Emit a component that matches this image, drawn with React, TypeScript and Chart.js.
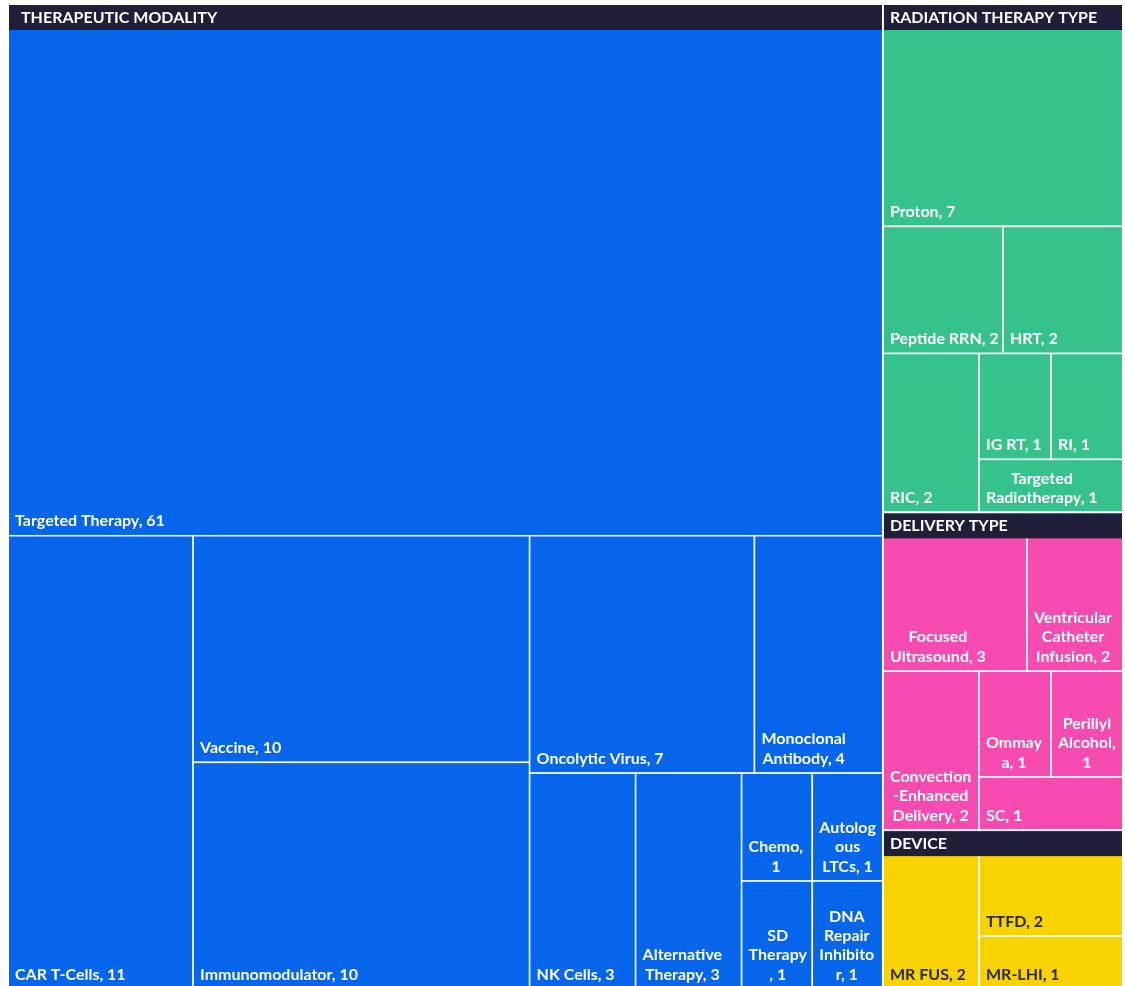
import React, { useEffect, useRef } from 'react';
import { Chart, registerables } from 'chart.js';

Chart.register(...registerables);

// ---------- data ----------
const groupNames = ['THERAPEUTIC MODALITY', 'RADIATION THERAPY TYPE', 'DELIVERY TYPE', 'DEVICE'];
const groupColors = ['#0566EC', '#36C38B', '#F74BB2', '#F8D300'];
const groupTextColors = ['#FFFFFF', '#FFFFFF', '#FFFFFF', '#2B2A28'];

const modalityLabels = [
  'Targeted Therapy', 'CAR T-Cells', 'Vaccine', 'Immunomodulator', 'Oncolytic Virus',
  'Monoclonal Antibody', 'NK Cells', 'Alternative Therapy', 'Chemo', 'Autologous LTCs',
  'SD Therapy', 'DNA Repair Inhibitor',
];
const modalityValues = [61, 11, 10, 10, 7, 4, 3, 3, 1, 1, 1, 1];

const radiationLabels = ['Proton', 'Peptide RRN', 'HRT', 'RIC', 'IG RT', 'RI', 'Targeted Radiotherapy'];
const radiationValues = [7, 2, 2, 2, 1, 1, 1];

const deliveryLabels = [
  'Focused Ultrasound', 'Ventricular Catheter Infusion', 'Convection-Enhanced Delivery',
  'Ommaya', 'Perillyl Alcohol', 'SC',
];
const deliveryValues = [3, 2, 2, 1, 1, 1];

const deviceLabels = ['MR FUS', 'TTFD', 'MR-LHI'];
const deviceValues = [2, 2, 1];

const groupLabels = [modalityLabels, radiationLabels, deliveryLabels, deviceLabels];
const groupValues = [modalityValues, radiationValues, deliveryValues, deviceValues];

// ---------- style ----------
const HEADER_BG = '#1F1F3A';
const HEADER_H = 25;
const HEADER_TEXT_INSET = [13, 7, 7, 7];
const FONT_FAMILY = 'Lato, "Noto Sans", sans-serif';
const LABEL_FONT = `bold 16px ${FONT_FAMILY}`;
const HEADER_FONT = `bold 16px ${FONT_FAMILY}`;
const LINE_H = 19.3;
const LABEL_BOTTOM_PAD = 9.5;
const SHAPE_BIAS = 1.618; // squarify penalty for wide cells

type Rect = { x: number; y: number; w: number; h: number };

function squarify(values: number[], rect: Rect): Rect[] {
  const order = values.map((v, i) => i).sort((a, b) => values[b] - values[a]);
  const vals = order.map((i) => values[i]);
  const out: Rect[] = new Array(values.length);
  let { x, y, w, h } = rect;
  let remaining = vals.reduce((a, b) => a + b, 0);
  let i = 0;
  while (i < vals.length) {
    const rowAcross = w <= h;
    const side = rowAcross ? w : h;
    const scale = (w * h) / remaining;
    let j = i;
    let sum = 0;
    let best = Infinity;
    while (j < vals.length) {
      const s = sum + vals[j];
      const thick = (s * scale) / side;
      let worst = 0;
      for (let k = i; k <= j; k++) {
        const along = (vals[k] * scale) / thick;
        const ew = rowAcross ? along : thick;
        const eh = rowAcross ? thick : along;
        worst = Math.max(worst, (SHAPE_BIAS * ew) / eh, eh / ew);
      }
      if (worst <= best) {
        best = worst;
        sum = s;
        j++;
      } else break;
    }
    const thick = (sum * scale) / side;
    let off = 0;
    for (let k = i; k < j; k++) {
      const along = (vals[k] * scale) / thick;
      out[order[k]] = rowAcross
        ? { x: x + off, y, w: along, h: thick }
        : { x, y: y + off, w: thick, h: along };
      off += along;
    }
    if (rowAcross) {
      y += thick;
      h -= thick;
    } else {
      x += thick;
      w -= thick;
    }
    remaining -= sum;
    i = j;
  }
  return out;
}

function wrapText(ctx: CanvasRenderingContext2D, text: string, maxW: number): string[] {
  const words = text.split(' ');
  const lines: string[] = [];
  let cur = '';
  for (const word of words) {
    const test = cur ? cur + ' ' + word : word;
    if (ctx.measureText(test).width <= maxW) {
      cur = test;
      continue;
    }
    if (cur) {
      lines.push(cur);
      cur = '';
    }
    if (ctx.measureText(word).width <= maxW) {
      cur = word;
      continue;
    }
    let piece = '';
    for (const ch of word) {
      if (piece === '' || ctx.measureText(piece + ch).width <= maxW) piece += ch;
      else {
        lines.push(piece);
        piece = ch;
      }
    }
    cur = piece;
  }
  if (cur) lines.push(cur);
  return lines;
}

const treemapPlugin = {
  id: 'treemapCells',
  afterDatasetsDraw(chart: any) {
    const { ctx, chartArea, scales } = chart;
    const xs = scales.x;
    const ys = scales.y;
    const ar = chartArea.width / chartArea.height;
    const toPx = (r: Rect): Rect => {
      const x0 = xs.getPixelForValue(r.x / ar);
      const x1 = xs.getPixelForValue((r.x + r.w) / ar);
      const y0 = ys.getPixelForValue(r.y);
      const y1 = ys.getPixelForValue(r.y + r.h);
      return { x: Math.min(x0, x1), y: Math.min(y0, y1), w: Math.abs(x1 - x0), h: Math.abs(y1 - y0) };
    };
    const totals = groupValues.map((v) => v.reduce((a, b) => a + b, 0));
    const groupRects = squarify(totals, { x: 0, y: 0, w: ar, h: 1 });

    ctx.save();
    groupRects.forEach((gr, gi) => {
      const leafRects = squarify(groupValues[gi], gr).map(toPx);
      const g = toPx(gr);
      leafRects.forEach((r) => {
        ctx.fillStyle = groupColors[gi];
        ctx.fillRect(r.x, r.y, r.w, r.h);
        ctx.strokeStyle = '#FFFFFF';
        ctx.lineWidth = 1.5;
        ctx.strokeRect(r.x, r.y, r.w, r.h);
      });
      ctx.strokeStyle = '#FFFFFF';
      ctx.lineWidth = 2;
      ctx.strokeRect(g.x, g.y, g.w, g.h);
      ctx.font = LABEL_FONT;
      ctx.fillStyle = groupTextColors[gi];
      ctx.textBaseline = 'alphabetic';
      ctx.textAlign = 'left';
      leafRects.forEach((r, li) => {
        const text = `${groupLabels[gi][li]}, ${groupValues[gi][li]}`;
        const lines = wrapText(ctx, text, r.w - 11);
        const widths = lines.map((l) => ctx.measureText(l).width);
        const blockW = Math.max(...widths);
        const left = r.x + 7;
        const lastBase = r.y + r.h - LABEL_BOTTOM_PAD;
        lines.forEach((l, k) => {
          const base = lastBase - (lines.length - 1 - k) * LINE_H;
          ctx.fillText(l, left + (blockW - widths[k]) / 2, base);
        });
      });
      ctx.fillStyle = HEADER_BG;
      ctx.fillRect(g.x + 1, g.y + 1, g.w - 2, HEADER_H);
      ctx.font = HEADER_FONT;
      ctx.fillStyle = '#FFFFFF';
      ctx.fillText(groupNames[gi], g.x + HEADER_TEXT_INSET[gi], g.y + 19);
    });
    ctx.restore();
  },
};

export default function App() {
  const canvasRef = useRef<HTMLCanvasElement | null>(null);

  useEffect(() => {
    if (!canvasRef.current) return;
    const chart = new Chart(canvasRef.current, {
      type: 'scatter',
      data: { datasets: [{ data: [] }] },
      options: {
        animation: false,
        responsive: true,
        maintainAspectRatio: false,
        layout: { padding: 0 },
        plugins: { legend: { display: false }, tooltip: { enabled: false } },
        scales: {
          x: { type: 'linear', min: 0, max: 1, display: false },
          y: { type: 'linear', min: 0, max: 1, reverse: true, display: false },
        },
      },
      plugins: [treemapPlugin],
    });
    return () => chart.destroy();
  }, []);

  return (
    <div style={{ position: 'absolute', left: 8, top: 4, width: 1115, height: 985 }}>
      <canvas ref={canvasRef} />
    </div>
  );
}
